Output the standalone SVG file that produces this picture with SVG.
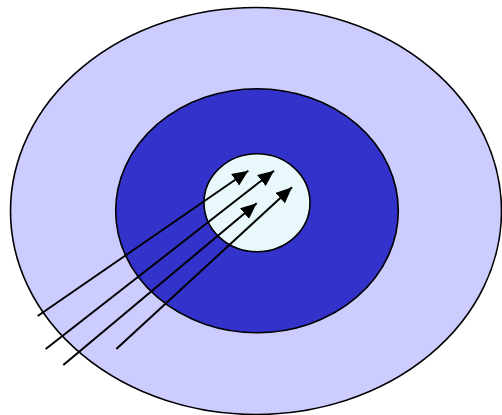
<svg xmlns="http://www.w3.org/2000/svg" width="502" height="415" viewBox="0 0 502 415">
<style>
.ring{stroke:#000;stroke-width:1.6}
.arr{stroke:#000;stroke-width:2;fill:none;marker-end:url(#ah)}
</style>
<defs>
<marker id="ah" markerUnits="userSpaceOnUse" markerWidth="16" markerHeight="14" viewBox="0 0 16 14" refX="16" refY="7" orient="auto">
<path d="M0,0 L16,7 L0,14 Z" fill="#000"/>
</marker>
</defs>
<rect width="502" height="415" fill="#fff"/>
<g id="outer"><ellipse class="ring" cx="256" cy="211" rx="245.5" ry="203.5" fill="#CCCCFF"/></g>
<g id="middle"><ellipse class="ring" cx="257" cy="210.7" rx="141.3" ry="122" fill="#3333CC"/></g>
<g id="inner"><ellipse class="ring" cx="257" cy="202.7" rx="53" ry="49" fill="#E9F8FA"/></g>
<g id="connectors">
<line class="arr" x1="37.7" y1="316" x2="248.3" y2="170.7"/>
<line class="arr" x1="45.7" y1="349" x2="274" y2="170.7"/>
<line class="arr" x1="63.3" y1="365" x2="256.7" y2="203.3"/>
<line class="arr" x1="116.3" y1="349" x2="292" y2="187.3"/>
</g>
</svg>
